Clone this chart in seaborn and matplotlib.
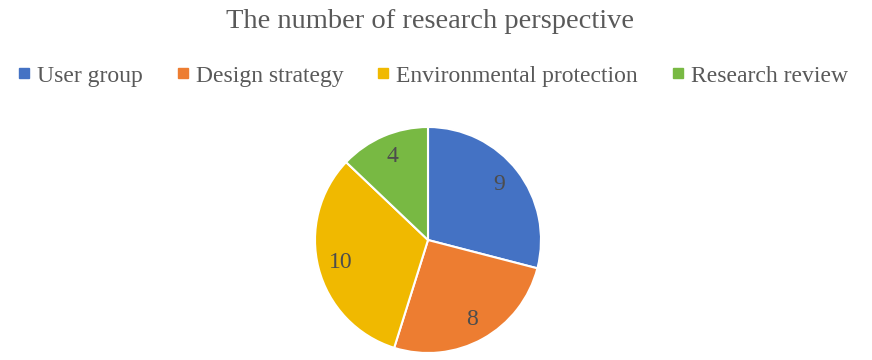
import matplotlib
matplotlib.use("Agg")
import matplotlib.pyplot as plt
import seaborn as sns
from matplotlib.lines import Line2D

categories = ["User group", "Design strategy", "Environmental protection", "Research review"]
values = [9, 8, 10, 4]
colors = ["#4472C4", "#ED7D31", "#F0B900", "#78B943"]
title = "The number of research perspective"

sns.set_theme(style="white")
plt.rcParams['font.family'] = ['Liberation Serif', 'DejaVu Serif']

fig = plt.figure(figsize=(8.72, 3.6), dpi=100)
fig.patch.set_facecolor("white")

cx, cy, r = 428, 120, 113
ax = fig.add_axes([(cx - r) / 872, (cy - r) / 360, 2 * r / 872, 2 * r / 360])

wedges, texts, autotexts = ax.pie(
    values, colors=colors, startangle=90, counterclock=False, radius=1,
    autopct=lambda p: f"{round(p * sum(values) / 100):d}", pctdistance=0.8,
    wedgeprops=dict(edgecolor="white", linewidth=1.5),
    textprops=dict(color="#4d4d4d", fontsize=17),
)
ax.set_xlim(-1.0, 1.0)
ax.set_ylim(-1.0, 1.0)
ax.set_aspect("equal")
ax.axis("off")

fig.text(430 / 872, 1 - 22 / 360, title, ha="center", va="center",
         fontsize=20.5, color="#595959")

handles = [Line2D([0], [0], marker="s", linestyle="none", markersize=6.5,
                  markerfacecolor=c, markeredgecolor=c) for c in colors]
fig.legend(handles, categories, loc="center", bbox_to_anchor=(433 / 872, 1 - 76 / 360),
           ncol=4, frameon=False, fontsize=17, labelcolor="#595959",
           handlelength=0.5, handletextpad=0.3, columnspacing=1.45)

fig.savefig("out.png", dpi=100, facecolor="white")
